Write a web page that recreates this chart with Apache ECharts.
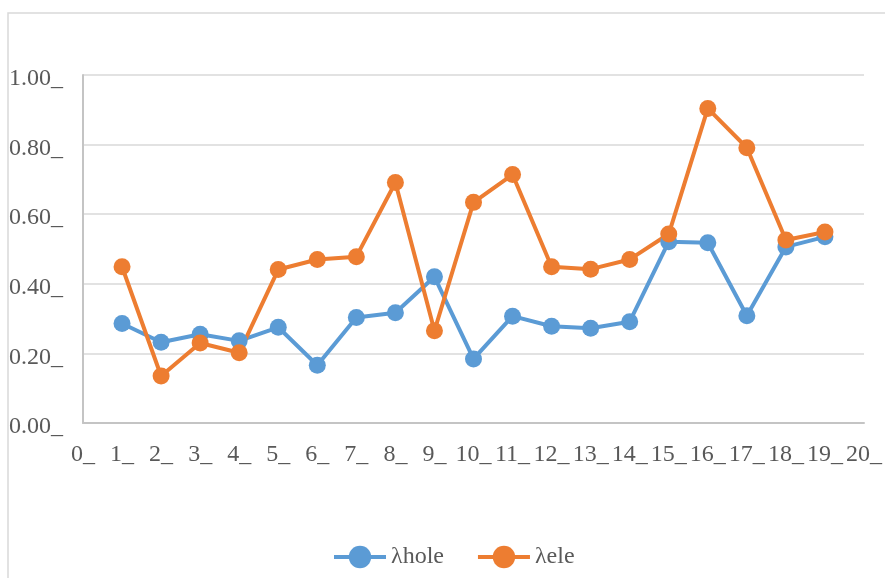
<!DOCTYPE html>
<html>
<head>
<meta charset="utf-8">
<script src="https://cdn.jsdelivr.net/npm/echarts@6/dist/echarts.min.js"></script>
<style>
  html, body { margin: 0; padding: 0; background: #fff; }
  #chart { width: 885px; height: 578px; }
</style>
</head>
<body>
<div id="chart"></div>
<script>
'use strict';

// x positions 1..19
var xs = [1, 2, 3, 4, 5, 6, 7, 8, 9, 10, 11, 12, 13, 14, 15, 16, 17, 18, 19];
var lambdaHole = [0.286, 0.232, 0.255, 0.236, 0.275, 0.166, 0.303, 0.317, 0.420, 0.184,
  0.307, 0.278, 0.272, 0.291, 0.521, 0.518, 0.308, 0.506, 0.535];
var lambdaEle = [0.449, 0.135, 0.230, 0.202, 0.441, 0.470, 0.478, 0.691, 0.265, 0.634,
  0.714, 0.449, 0.442, 0.470, 0.543, 0.904, 0.791, 0.526, 0.549];
var seriesNames = ['\u03bbhole', '\u03bbele'];

function pairs(vals) {
  return xs.map(function(x, i) { return [x, vals[i]]; });
}

var font = '"Liberation Serif", "Times New Roman", serif';
var textColor = '#595959';

var chart = echarts.init(document.getElementById('chart'));
chart.setOption({
  animation: false,
  backgroundColor: '#fff',
  graphic: [{
    type: 'rect',
    shape: { x: 8, y: 13, width: 900, height: 620 },
    style: { fill: 'none', stroke: '#d9d9d9', lineWidth: 1.5 },
    silent: true
  }],
  grid: { left: 83, right: 18, top: 75, bottom: 155 },
  xAxis: {
    type: 'value',
    min: 0,
    max: 20,
    interval: 1,
    axisLine: { show: true, lineStyle: { color: '#c4c4c4', width: 2 } },
    axisTick: { show: false },
    splitLine: { show: false },
    axisLabel: {
      margin: 20,
      color: textColor,
      fontFamily: font,
      fontSize: 24,
      formatter: function(v) { return v + '_'; }
    }
  },
  yAxis: {
    type: 'value',
    min: 0,
    max: 1,
    interval: 0.2,
    axisLine: { show: true, lineStyle: { color: '#c4c4c4', width: 2 } },
    axisTick: { show: false },
    splitLine: { show: true, lineStyle: { color: '#d9d9d9', width: 1.5 } },
    axisLabel: {
      margin: 20,
      color: textColor,
      fontFamily: font,
      fontSize: 24,
      formatter: function(v) { return '{t|' + v.toFixed(2) + '_}'; },
      rich: {
        t: { padding: [8, 0, 0, 0], color: textColor, fontFamily: font, fontSize: 24 }
      }
    }
  },
  legend: {
    bottom: 4,
    left: 327,
    itemWidth: 52,
    itemHeight: 28,
    itemGap: 32,
    lineStyle: { width: 4 },
    textStyle: { color: textColor, fontFamily: font, fontSize: 24 },
    data: seriesNames
  },
  series: [{
    name: seriesNames[0],
    type: 'line',
    data: pairs(lambdaHole),
    symbol: 'circle',
    symbolSize: 17,
    color: '#5b9bd5',
    lineStyle: { width: 4 }
  }, {
    name: seriesNames[1],
    type: 'line',
    data: pairs(lambdaEle),
    symbol: 'circle',
    symbolSize: 17,
    color: '#ed7d31',
    lineStyle: { width: 4 }
  }]
});
</script>
</body>
</html>
